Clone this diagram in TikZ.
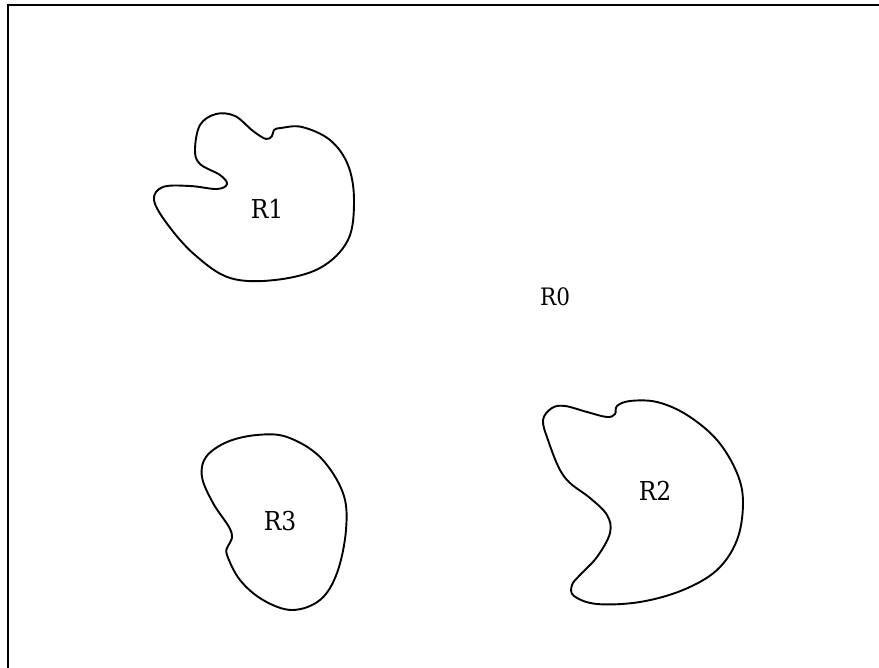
\documentclass[tikz,border=0pt]{standalone}
\usepackage{fontspec}
\setmainfont{DejaVu Serif}
\newfontfamily\lblfont{DejaVu Serif Condensed}
\usepackage{tikz}
\usetikzlibrary{positioning, calc}
\tikzset{
  frame/.style={draw=black, line width=2.2pt},
  region/.style={draw=black, line width=1.9pt, line join=round},
  lbl/.style={font=\lblfont\fontsize{26}{29}\selectfont, text=black, inner sep=0pt},
  lbls/.style={lbl, font=\lblfont\fontsize{24}{27}\selectfont},
}

\begin{document}
\begin{tikzpicture}[x=1pt, y=-1pt]
  \useasboundingbox (0,0) rectangle (879,668);
  \clip (0,0) rectangle (879,668);
  \draw[frame] (8,5) rectangle (920,720);
  % regions
  \draw[region] plot[smooth cycle, tension=0.6] coordinates {
    (163,187) (190,186) (217,189) (227,184) (220,175) (200,164) (195,150)
    (200,125) (216,114) (235,116) (253,131) (266,139) (272,136) (274,130)
    (281,128) (302,127) (330,140) (348,165) (354,200) (348,240) (320,268)
    (275,280) (230,278) (195,255) (168,225) (154,200)};
  \draw[region] plot[smooth cycle, tension=0.6] coordinates {
    (257,435) (287,437) (320,457) (343,493) (346,530) (337,573) (320,600)
    (292,610) (263,600) (240,580) (227,555) (228,546) (232,538) (229,527)
    (213,503) (202,477) (206,457) (227,442)};
  \draw[region] plot[smooth cycle, tension=0.6] coordinates {
    (552,408) (565,406) (587,412) (607,417) (615,414) (617,406) (630,401)
    (657,402) (687,415) (717,440) (737,473) (743,503) (737,540) (717,570)
    (683,590) (640,602) (597,604) (574,596) (572,585) (580,575) (597,557)
    (610,533) (607,515) (590,498) (570,483) (559,468) (548,440) (543,420)};
  % labels
  \node[lbls] (r0) at (555,297) {R0};
  \node[lbl] (r1) at (267,209) {R1};
  \node[lbl] (r2) at (655,491) {R2};
  \node[lbl] (r3) at (280,521) {R3};
\end{tikzpicture}
\end{document}
